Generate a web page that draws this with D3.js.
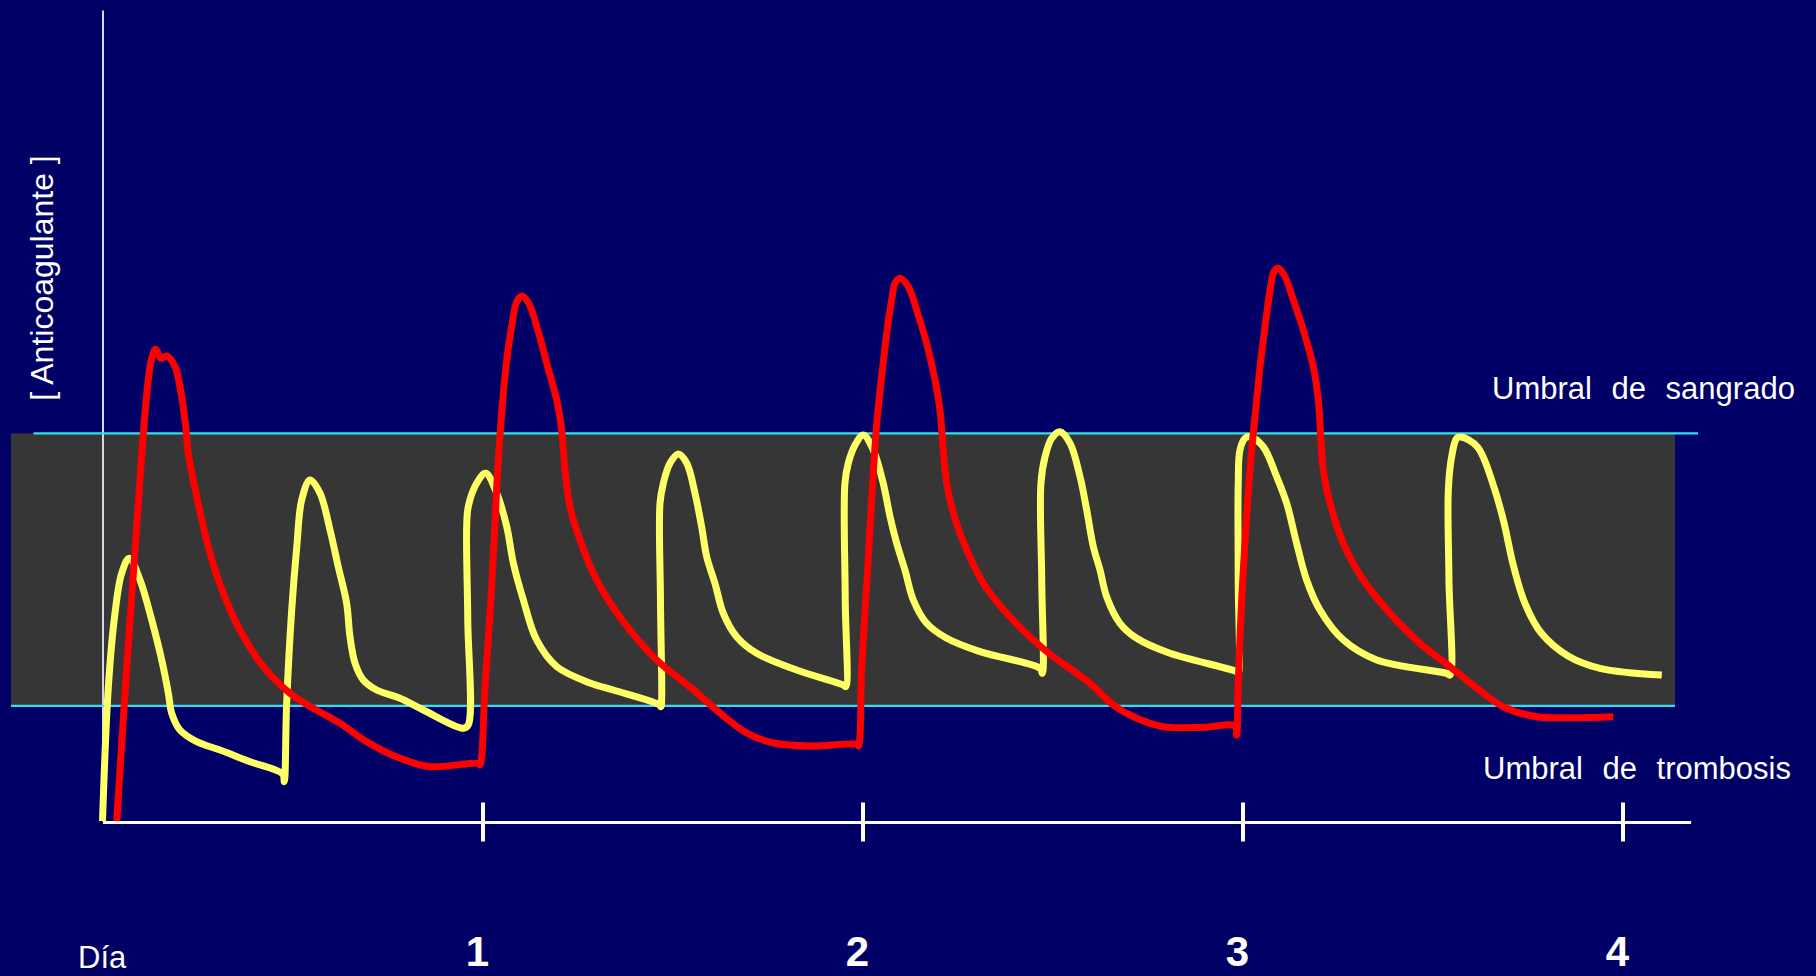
<!DOCTYPE html>
<html>
<head>
<meta charset="utf-8">
<script src="https://cdn.jsdelivr.net/npm/d3@7"></script>
<style>
  html, body { margin: 0; padding: 0; background: #000066; overflow: hidden; }
  svg { display: block; }
  text { font-family: "Liberation Sans", Arial, Helvetica, sans-serif; fill: #ffffff; }
</style>
</head>
<body>
<svg id="chart" width="1816" height="976"></svg>
<script>
// Time in hours since the first dose; level in arbitrary concentration units.
const dayTicks = [24, 48, 72, 96];
const dayLabels = ["1", "2", "3", "4"];
const bleedingThreshold = 47.8;
const thrombosisThreshold = 14.2;

// Red curve: once-daily dosing, large peaks and deep troughs
const redHours = [0.90, 1.31, 1.74, 2.16, 2.58, 2.89, 3.11, 3.36, 3.69, 4.05, 4.58, 4.89, 5.21, 5.42, 5.95, 6.79, 7.63, 8.68, 10.16, 11.84,
  13.31, 15.00, 16.69, 18.79, 20.68, 23.73, 23.84, 24.16, 24.58, 24.90, 25.21, 25.53, 25.84, 26.18, 26.49, 26.91, 27.51, 28.05, 28.69, 29.00,
  29.21, 29.53, 30.16, 31.21, 32.68, 35.00, 37.11, 39.00, 40.69, 42.37, 44.89, 47.63, 47.74, 47.95, 48.27, 48.58, 48.90, 49.21, 49.53, 49.84,
  50.05, 50.37, 50.89, 51.42, 52.05, 52.58, 52.89, 53.10, 53.32, 53.74, 54.58, 55.63, 57.11, 58.79, 60.05, 61.42, 62.37, 63.84, 65.32, 67.00,
  69.52, 71.53, 71.63, 71.73, 71.95, 72.26, 72.58, 72.79, 73.11, 73.42, 73.74, 73.99, 74.26, 74.68, 75.21, 75.84, 76.47, 76.79, 76.94, 77.10,
  77.53, 78.37, 79.63, 81.32, 83.21, 85.11, 86.79, 88.47, 90.58, 92.89, 95.42];
const redLevel = [0.0, 12.45, 24.78, 36.29, 47.80, 54.38, 57.09, 58.16, 57.05, 57.34, 56.02, 53.55, 49.45, 45.34, 39.99, 33.01, 28.08, 23.55, 19.03, 15.75,
  13.90, 12.05, 9.78, 7.73, 6.70, 7.11, 6.90, 16.56, 28.89, 41.22, 50.27, 56.84, 60.95, 64.12, 64.73, 63.87, 60.42, 56.47, 51.91, 48.21,
  43.28, 38.72, 34.65, 29.72, 25.15, 19.85, 16.52, 13.32, 10.85, 9.62, 9.25, 9.46, 9.25, 19.03, 29.31, 39.58, 49.04, 54.78, 60.14, 64.24,
  66.30, 66.92, 65.88, 63.01, 58.90, 54.38, 50.68, 45.75, 41.64, 37.94, 33.42, 29.31, 25.61, 22.32, 20.26, 18.37, 16.98, 14.30, 12.66, 11.63,
  11.55, 11.71, 10.60, 16.98, 27.25, 37.52, 45.75, 49.85, 56.02, 60.95, 65.47, 67.73, 68.15, 67.12, 64.24, 60.54, 56.02, 51.91, 47.39, 43.28,
  39.17, 34.24, 29.72, 25.61, 21.91, 19.03, 16.40, 14.09, 12.86, 12.74, 12.86];

// Yellow curve: twice-daily dosing, level kept inside the window
const yellowHours = [0.00, 0.37, 0.79, 1.21, 1.69, 2.37, 3.11, 3.74, 4.16, 4.37, 4.89, 5.95, 7.42, 9.32, 11.38, 11.48, 11.63, 11.95, 12.27, 12.58,
  13.11, 13.74, 14.37, 14.89, 15.42, 15.63, 15.95, 16.47, 17.32, 18.79, 20.26, 22.79, 23.10, 23.07, 23.00, 23.10, 23.63, 24.20, 24.90, 25.53,
  25.95, 26.58, 27.42, 28.69, 30.79, 32.26, 35.21, 35.27, 35.24, 35.21, 35.42, 35.84, 36.37, 36.90, 37.42, 37.84, 38.16, 38.68, 39.21, 40.05,
  41.32, 43.84, 46.79, 46.94, 46.91, 46.89, 47.10, 47.53, 48.05, 48.68, 49.31, 49.74, 50.16, 50.68, 51.21, 52.05, 53.32, 55.42, 59.21, 59.36,
  59.32, 59.27, 59.53, 59.95, 60.47, 61.11, 61.74, 62.16, 62.58, 63.00, 63.42, 64.26, 65.32, 67.42, 71.63, 71.73, 71.73, 71.73, 71.84, 72.16,
  72.47, 73.31, 74.16, 74.79, 75.42, 76.05, 76.89, 78.37, 80.48, 84.90, 85.11, 85.04, 85.00, 85.21, 85.53, 85.80, 86.84, 87.88, 88.52, 89.10,
  89.84, 90.88, 92.56, 94.58, 98.48];
const yellowLevel = [0.0, 16.56, 25.65, 30.54, 32.39, 29.72, 24.78, 19.85, 15.75, 13.28, 11.22, 9.78, 8.75, 7.31, 5.80, 4.85, 14.51, 26.02, 33.82, 39.58,
  42.05, 40.41, 35.88, 31.36, 26.84, 22.73, 19.45, 17.39, 16.15, 15.13, 13.69, 11.43, 11.84, 24.78, 36.29, 38.75, 41.64, 42.87, 40.41, 36.29,
  31.78, 27.25, 22.32, 19.03, 17.02, 16.15, 14.30, 14.09, 27.25, 39.17, 41.64, 44.11, 45.25, 44.11, 40.41, 36.29, 32.59, 29.31, 25.61, 22.73,
  20.68, 18.62, 16.77, 16.56, 27.25, 41.64, 44.11, 46.36, 47.60, 45.75, 41.64, 37.52, 34.24, 30.95, 27.25, 24.38, 22.53, 20.88, 18.83, 18.21,
  29.72, 41.64, 44.92, 47.19, 48.00, 46.57, 42.45, 38.35, 33.82, 30.95, 27.66, 24.38, 22.53, 20.68, 18.41, 18.21, 29.72, 41.64, 45.75, 47.19,
  47.39, 46.15, 42.45, 39.17, 34.24, 29.72, 26.02, 22.32, 19.85, 18.21, 18.00, 29.72, 40.81, 44.92, 47.19, 47.35, 46.12, 41.18, 36.74, 31.57,
  26.84, 23.14, 20.35, 18.83, 18.00];

const labelBleeding = "Umbral de sangrado";
const labelThrombosis = "Umbral de trombosis";
const labelY = "[ Anticoagulante ]";
const labelX = "Día";

// ---- layout ----
const W = 1816, H = 976;
const hoursEnd = 100.3;           // right end of the time axis
const bandLeft = 11, bandRight = 1675;
const upperLineLeft = 33.5, upperLineRight = 1698;

const x = d3.scaleLinear().domain([0, 96]).range([102.5, 1622.5]);
const y = d3.scaleLinear().domain([0, 100]).range([821, 10]);

const svg = d3.select("#chart");
svg.append("rect").attr("width", W).attr("height", H).attr("fill", "#000066");

// therapeutic window
svg.append("rect")
  .attr("x", bandLeft)
  .attr("y", y(bleedingThreshold))
  .attr("width", bandRight - bandLeft)
  .attr("height", y(thrombosisThreshold) - y(bleedingThreshold))
  .attr("fill", "#363636");

// vertical axis
svg.append("g")
  .attr("transform", `translate(${x(0)},0)`)
  .call(d3.axisLeft(y).tickValues([]).tickSizeOuter(0))
  .call(g => g.select(".domain").attr("stroke", "#d6d6e6").attr("stroke-width", 2));

// threshold lines
svg.append("line")
  .attr("x1", upperLineLeft).attr("x2", upperLineRight)
  .attr("y1", y(bleedingThreshold)).attr("y2", y(bleedingThreshold))
  .attr("stroke", "#2fe0ea").attr("stroke-width", 2.2);
svg.append("line")
  .attr("x1", bandLeft).attr("x2", bandRight)
  .attr("y1", y(thrombosisThreshold)).attr("y2", y(thrombosisThreshold))
  .attr("stroke", "#2fe0ea").attr("stroke-width", 2.2);

// time axis with centred day ticks
const xAxisScale = x.copy().domain([0, hoursEnd]).range([x(0), x(hoursEnd)]);
svg.append("g")
  .attr("transform", `translate(0,${y(0) + 1})`)
  .call(d3.axisBottom(xAxisScale).tickValues(dayTicks).tickFormat("").tickSizeOuter(0).tickSizeInner(0))
  .call(g => g.select(".domain").attr("stroke", "#ffffff").attr("stroke-width", 3))
  .call(g => g.selectAll(".tick line")
    .attr("y1", -19.5).attr("y2", 19.5)
    .attr("stroke", "#ffffff").attr("stroke-width", 4));

// concentration curves
const line = d3.line()
  .x(d => x(d[0]))
  .y(d => y(d[1]))
  .curve(d3.curveCatmullRom.alpha(0.5));

const yellowData = yellowHours.map((h, i) => [h, yellowLevel[i]]);
const redData = redHours.map((h, i) => [h, redLevel[i]]);

svg.append("path")
  .datum(yellowData)
  .attr("d", line)
  .attr("fill", "none")
  .attr("stroke", "#ffff66")
  .attr("stroke-width", 7)
  .attr("stroke-linejoin", "round")
  .attr("stroke-linecap", "butt");

svg.append("path")
  .datum(redData)
  .attr("d", line)
  .attr("fill", "none")
  .attr("stroke", "#ff0000")
  .attr("stroke-width", 7)
  .attr("stroke-linejoin", "round")
  .attr("stroke-linecap", "butt");

// labels
svg.append("text")
  .attr("x", 1492).attr("y", 399)
  .attr("font-size", 31).style("word-spacing", "11px")
  .text(labelBleeding);
svg.append("text")
  .attr("x", 1483).attr("y", 779)
  .attr("font-size", 31).style("word-spacing", "11px")
  .text(labelThrombosis);

svg.append("text")
  .attr("transform", "translate(53,278) rotate(-90)")
  .attr("text-anchor", "middle")
  .attr("font-size", 32)
  .text(labelY);

svg.append("text")
  .attr("x", 78).attr("y", 968)
  .attr("font-size", 31)
  .text(labelX);

svg.selectAll("text.day")
  .data(dayTicks)
  .join("text")
  .attr("class", "day")
  .attr("x", d => x(d) - 5)
  .attr("y", 966)
  .attr("text-anchor", "middle")
  .attr("font-size", 42)
  .attr("font-weight", "bold")
  .text((d, i) => dayLabels[i]);
</script>
</body>
</html>
